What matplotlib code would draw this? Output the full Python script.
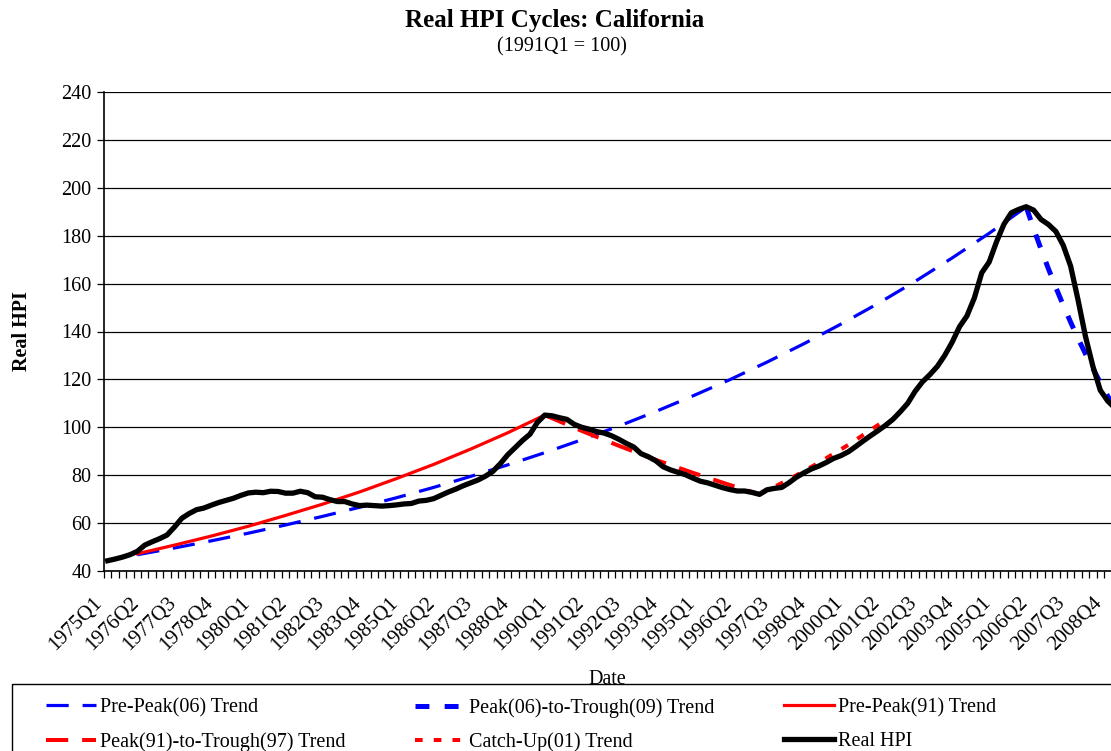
import numpy as np
import matplotlib
matplotlib.use("Agg")
import matplotlib.pyplot as plt
from matplotlib.patches import Rectangle
from matplotlib.transforms import ScaledTranslation

plt.rcParams['font.family'] = ['Liberation Serif', 'DejaVu Serif']
plt.rcParams['lines.scale_dashes'] = False

# ---------------- data ----------------
years = list(range(1975, 2010))
quarters = [f"{y}Q{q}" for y in years for q in range(1, 5)][:137]  # 1975Q1 .. 2009Q1

real_hpi = [
    44.3, 45.0, 45.8, 46.8, 48.2, 50.8, 52.2, 53.5, 55.0, 58.3,
    62.0, 64.0, 65.6, 66.3, 67.5, 68.6, 69.5, 70.4, 71.6, 72.6,
    72.9, 72.7, 73.3, 73.2, 72.5, 72.5, 73.3, 72.7, 71.0, 70.8,
    69.8, 69.0, 69.0, 68.0, 67.3, 67.5, 67.3, 67.1, 67.3, 67.6,
    68.0, 68.2, 69.2, 69.5, 70.2, 71.6, 73.0, 74.2, 75.6, 76.8,
    78.0, 79.6, 81.6, 84.8, 88.5, 91.5, 94.5, 97.1, 102.0, 105.1,
    104.8, 104.0, 103.3, 101.2, 100.0, 99.2, 98.2, 97.6, 96.5, 95.0,
    93.3, 91.8, 89.0, 87.7, 86.0, 83.5, 82.2, 81.2, 80.2, 78.8,
    77.5, 76.8, 75.8, 74.8, 74.0, 73.4, 73.4, 72.8, 72.0, 73.9,
    74.5, 74.9, 76.9, 79.2, 81.0, 82.6, 83.8, 85.3, 87.0, 88.2,
    89.8, 92.0, 94.3, 96.5, 98.6, 100.8, 103.3, 106.5, 110.0, 115.0,
    119.0, 122.0, 125.4, 130.0, 135.5, 142.0, 146.5, 154.0, 164.5, 169.0,
    177.5, 184.8, 189.6, 191.0, 192.1, 190.7, 186.8, 184.7, 181.8, 176.0,
    167.3, 153.2, 138.0, 125.5, 115.5, 111.0, 108.0,
]

# Pre-Peak(06) trend (quarter index, value)
pre06_idx = [4, 9, 14, 19, 24, 29, 34, 39, 44, 49, 54, 59, 64, 69, 74, 79,
             84, 89, 94, 99, 104, 109, 114, 119, 124]
pre06_val = [46.8, 49.6, 52.6, 55.8, 59.2, 62.8, 66.6, 70.6, 74.9, 79.5,
             84.3, 89.4, 94.8, 100.5, 106.6, 113.1, 119.9, 127.2, 134.9,
             143.1, 151.7, 160.9, 170.7, 181.0, 192.0]

# Peak(06)-to-Trough(09) trend
pt09_idx = [124, 125, 126, 127, 128, 129, 130, 131, 132, 133, 134, 135, 136]
pt09_val = [192.0, 183.0, 174.4, 166.2, 158.4, 151.0, 143.9, 137.1, 130.7,
            124.6, 118.7, 113.1, 107.8]

# Pre-Peak(91) trend
pre91_idx = [4, 9, 14, 19, 24, 29, 34, 39, 44, 49, 54, 59]
pre91_val = [47.2, 50.8, 54.6, 58.7, 63.2, 67.9, 73.0, 78.6, 84.5, 90.9,
             97.7, 105.1]

# Peak(91)-to-Trough(97) trend
pt97_idx = [59, 64, 69, 74, 79, 84, 88]
pt97_val = [105.1, 98.5, 92.3, 86.4, 81.0, 75.9, 72.0]

# Catch-Up(01) trend
cu01_idx = [88, 92, 96, 100, 105]
cu01_val = [72.0, 78.3, 85.2, 92.7, 103.0]

y_ticks = [40, 60, 80, 100, 120, 140, 160, 180, 200, 220, 240]

# ---------------- figure ----------------
W, H = 1111, 751
fig = plt.figure(figsize=(W / 100, H / 100), dpi=100)
ax = fig.add_axes([104 / W, 1 - 571 / H, (W - 104) / W, (571 - 92) / H])

x_all = np.arange(len(real_hpi))

BLUE = '#0000FF'
RED = '#FF0000'
l1, = ax.plot(pre06_idx, pre06_val, color=BLUE, lw=2.3, dashes=(16, 10),
              label='Pre-Peak(06) Trend', zorder=3)
l2, = ax.plot(pt09_idx, pt09_val, color=BLUE, lw=3.6, dashes=(10, 11),
              label='Peak(06)-to-Trough(09) Trend', zorder=3)
l3, = ax.plot(pre91_idx, pre91_val, color=RED, lw=2.3,
              label='Pre-Peak(91) Trend', zorder=3)
l4, = ax.plot(pt97_idx, pt97_val, color=RED, lw=2.9, dashes=(16, 10),
              label='Peak(91)-to-Trough(97) Trend', zorder=3)
l5, = ax.plot(cu01_idx, cu01_val, color=RED, lw=2.9, dashes=(5.5, 8),
              label='Catch-Up(01) Trend', zorder=3)
l6, = ax.plot(x_all, real_hpi, color='black', lw=3.8, solid_joinstyle='round',
              label='Real HPI', zorder=4)

ax.set_yticks(y_ticks)
ax.yaxis.grid(True, color='black', lw=0.9)
ax.set_axisbelow(True)

# category boundary ticks (major, no labels); rotated labels (minor ticks)
ax.set_xticks(np.arange(-0.5, 136, 1))
ax.set_xticklabels([])
lab_idx = list(range(0, 136, 5))
ax.set_xticks(lab_idx, minor=True)
ax.set_xticklabels([quarters[i] for i in lab_idx], minor=True, rotation=45,
                   ha='right', va='top', rotation_mode='anchor', fontsize=15)
ax.tick_params(axis='x', which='major', length=5, width=0.9, direction='out')
ax.tick_params(axis='x', which='minor', length=0, pad=16)
ax.tick_params(axis='y', length=5, width=0.9, labelsize=14.5, pad=4)
ax.set_xlim(-0.5, 135.45)
ax.set_ylim(40, 240)

# nudge the rotated labels left (after tick_params, which resets transforms)
shift = ScaledTranslation(-15 / 100, 0, fig.dpi_scale_trans)
for tk in ax.xaxis.get_minor_ticks():
    tk.label1.set_transform(tk.label1.get_transform() + shift)

for s in ['top', 'right']:
    ax.spines[s].set_visible(False)
for s in ['left', 'bottom']:
    ax.spines[s].set_linewidth(1.2)

ax.set_ylabel('Real HPI', fontsize=14.5, fontweight='bold', labelpad=21)
ax.set_xlabel('Date', fontsize=14.5, labelpad=11)

fig.text(555 / W, 1 - 21 / H, 'Real HPI Cycles: California', ha='center',
         va='center', fontsize=18, fontweight='bold')
fig.text(562 / W, 1 - 47 / H, '(1991Q1 = 100)', ha='center', va='center',
         fontsize=14.5)

# legend frame
fig.add_artist(Rectangle((12 / W, -0.1), 1.2, (751 - 684) / H + 0.1,
                         transform=fig.transFigure, fill=False,
                         edgecolor='black', lw=1.0))

col_x = [46, 415, 784]
cols = [(l1, l4), (l2, l5), (l3, l6)]
for cx, hs in zip(col_x, cols):
    fig.legend(handles=list(hs), loc='upper left',
               bbox_to_anchor=(cx / W, 1 - 698 / H),
               frameon=False, fontsize=14.5, handlelength=2.5,
               handletextpad=0.2, borderpad=0, borderaxespad=0,
               labelspacing=0.74)

fig.savefig('out.png', dpi=100)
